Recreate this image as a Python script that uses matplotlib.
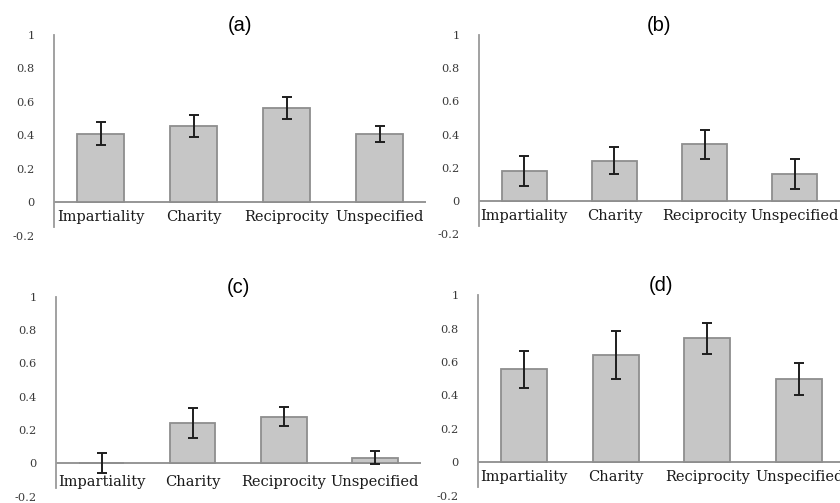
import matplotlib
matplotlib.use("Agg")
import matplotlib.pyplot as plt

categories = ['Impartiality', 'Charity', 'Reciprocity', 'Unspecified']
panel_titles = ['(a)', '(b)', '(c)', '(d)']

means_a = [0.41, 0.457, 0.563, 0.41]
errs_a = [0.07, 0.065, 0.063, 0.048]
means_b = [0.18, 0.243, 0.341, 0.163]
errs_b = [0.09, 0.082, 0.087, 0.088]
means_c = [0.004, 0.242, 0.28, 0.034]
errs_c = [0.06, 0.09, 0.058, 0.039]
means_d = [0.556, 0.641, 0.741, 0.496]
errs_d = [0.112, 0.142, 0.093, 0.096]

yticks = [-0.2, 0, 0.2, 0.4, 0.6, 0.8, 1]
ytick_labels = ['-0.2', '0', '0.2', '0.4', '0.6', '0.8', '1']

# axes boxes in figure fractions (left, bottom, width, height)
boxes = [
    [0.0643, 0.5318, 0.443, 0.3986],
    [0.5702, 0.5344, 0.4298, 0.396],
    [0.0667, 0.0127, 0.4339, 0.397],
    [0.5690, 0.0143, 0.4369, 0.399],
]
label_y = [-0.09, -0.09, -0.11, -0.085]

means = [means_a, means_b, means_c, means_d]
errs = [errs_a, errs_b, errs_c, errs_d]

fig = plt.figure(figsize=(8.4, 5.03), dpi=100)
serif = ['DejaVu Serif']

for i in range(4):
    ax = fig.add_axes(boxes[i])
    x = list(range(len(categories)))
    ax.bar(x, means[i], width=0.5, color='#c6c6c6', edgecolor='#8e8e8e', linewidth=1.3, zorder=2)
    ax.errorbar(x, means[i], yerr=errs[i], fmt='none', ecolor='#1e1e1e',
                elinewidth=1.4, capsize=3.6, capthick=1.4, zorder=3)
    ax.axhline(0, color='#8e8e8e', linewidth=1.3, zorder=1)
    ax.set_xlim(-0.5, 3.5)
    ax.set_ylim(-0.2, 1)
    ax.set_yticks(yticks)
    ax.set_yticklabels(ytick_labels, family=serif, fontsize=8.2, color='#3a3a3a')
    ax.tick_params(axis='y', length=0, pad=14)
    ax.set_xticks([])
    for s in ['top', 'right', 'bottom']:
        ax.spines[s].set_visible(False)
    ax.spines['left'].set_color('#9a9a9a')
    ax.spines['left'].set_linewidth(1.3)
    ax.spines['left'].set_bounds(-0.15, 1)
    for j, c in enumerate(categories):
        ax.text(j, label_y[i], c, ha='center', va='center', family=serif,
                fontsize=10.5, color='#1a1a1a')
    ax.set_title(panel_titles[i], family=['Liberation Sans', 'DejaVu Sans'],
                 fontsize=14.5, pad=2)
    ax.patch.set_visible(False)

fig.savefig('out.png', dpi=100)
